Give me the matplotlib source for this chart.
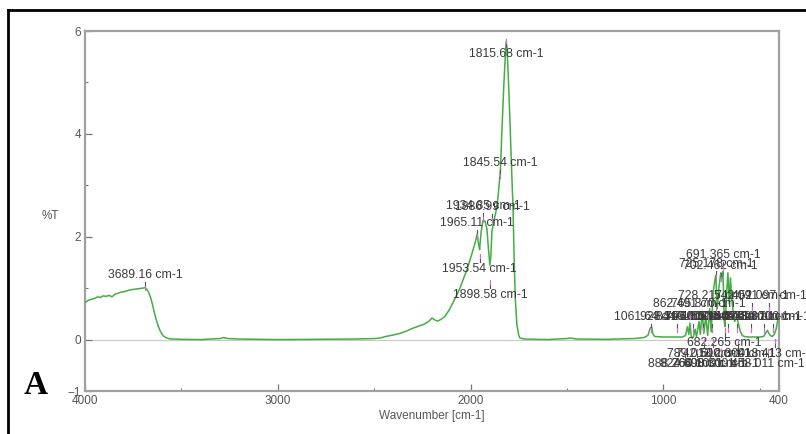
import matplotlib
matplotlib.use("Agg")
import matplotlib.pyplot as plt
from matplotlib.ticker import FixedLocator
from matplotlib.lines import Line2D
from matplotlib.transforms import offset_copy

# ---------------- data ----------------
wavenumber = [4000, 3985, 3970, 3950, 3935, 3920, 3905, 3890, 3875, 3860, 3845, 3830,
              3815, 3800, 3780, 3760, 3740, 3720, 3700, 3689, 3680, 3670, 3660, 3650,
              3640, 3630, 3620, 3610, 3600, 3590, 3575, 3560, 3540, 3500, 3400, 3300,
              3280, 3260, 3200, 3000, 2800, 2600, 2500, 2470, 2440, 2400, 2366, 2330,
              2300, 2262, 2240, 2215, 2200, 2185, 2170, 2150, 2133, 2110, 2091, 2070,
              2055, 2035, 2019, 2000, 1987, 1975, 1966, 1958, 1953, 1945, 1935, 1925,
              1915, 1908, 1900, 1895, 1889, 1880, 1870, 1858, 1850, 1845, 1838, 1828,
              1820, 1815, 1810, 1803, 1796, 1788, 1780, 1774, 1768, 1760, 1750, 1744,
              1720, 1600, 1500, 1480, 1450, 1300, 1150, 1100, 1080, 1068, 1061, 1055,
              1045, 1000, 950, 900, 885, 875, 868, 862, 855, 845, 835, 828, 815, 808,
              798, 790, 780, 770, 760, 752, 742, 735, 728, 720, 712, 702, 695, 691,
              684, 680, 672, 665, 658, 652, 645, 638, 630, 620, 610, 600, 590, 580,
              560, 530, 500, 480, 470, 460, 455, 445, 435, 425, 415, 408, 402, 400]
transmittance = [0.72, 0.76, 0.78, 0.80, 0.83, 0.82, 0.85, 0.84, 0.86, 0.83, 0.88, 0.90,
                 0.92, 0.93, 0.95, 0.97, 0.98, 0.99, 1.00, 1.01, 0.98, 0.92, 0.82, 0.68,
                 0.52, 0.38, 0.26, 0.17, 0.10, 0.06, 0.03, 0.015, 0.01, 0.005, 0.0, 0.02,
                 0.04, 0.02, 0.01, 0.0, 0.005, 0.01, 0.02, 0.03, 0.06, 0.09, 0.12, 0.17,
                 0.22, 0.27, 0.30, 0.36, 0.42, 0.38, 0.36, 0.40, 0.45, 0.58, 0.72, 0.88,
                 1.00, 1.20, 1.36, 1.58, 1.75, 1.90, 2.05, 1.85, 1.75, 2.10, 2.32, 2.30,
                 2.15, 1.80, 1.45, 1.60, 2.10, 2.30, 2.45, 2.75, 3.10, 3.30, 4.00, 4.90,
                 5.50, 5.80, 5.60, 5.00, 4.30, 3.40, 2.60, 1.60, 0.80, 0.30, 0.08, 0.03,
                 0.01, 0.0, 0.02, 0.03, 0.01, 0.005, 0.02, 0.04, 0.08, 0.22, 0.25, 0.12,
                 0.06, 0.05, 0.05, 0.05, 0.08, 0.25, 0.10, 0.32, 0.05, 0.04, 0.20, 0.05,
                 0.35, 0.10, 0.55, 0.12, 0.45, 0.08, 0.60, 0.15, 0.90, 1.10, 1.25, 0.60,
                 1.00, 1.30, 1.20, 1.32, 0.35, 0.25, 0.90, 1.30, 0.70, 1.20, 0.80, 0.55,
                 0.35, 0.45, 0.30, 0.15, 0.08, 0.06, 0.05, 0.05, 0.05, 0.06, 0.12, 0.18,
                 0.14, 0.08, 0.06, 0.10, 0.20, 0.35, 0.42, 0.45]

label_wn = [3689.16, 1815.68, 1845.54, 1934.85, 1886.99, 1965.11, 1953.54, 1898.58,
            691.365, 725.178, 702.462,
            728.217, 542.091, 452.097,
            862.491, 765.870,
            1061.64, 928.310, 844.600, 795.200, 748.500, 663.400, 618.270, 545.600, 478.300, 432.700,
            682.265,
            789.013, 742.500, 612.300, 418.413,
            888.264, 824.600, 760.100, 698.300, 458.011]
label_text = ["3689.16 cm-1", "1815.68 cm-1", "1845.54 cm-1", "1934.85 cm-1", "1886.99 cm-1",
              "1965.11 cm-1", "1953.54 cm-1", "1898.58 cm-1",
              "691.365 cm-1", "725.178 cm-1", "702.462 cm-1",
              "728.217 cm-1", "542.091 cm-1", "452.097 cm-1",
              "862.491 cm-1", "765.870 cm-1",
              "1061.64 cm-1", "928.310 cm-1", "844.600 cm-1", "795.200 cm-1", "748.500 cm-1",
              "663.400 cm-1", "618.270 cm-1", "545.600 cm-1", "478.300 cm-1", "432.700 cm-1",
              "682.265 cm-1",
              "789.013 cm-1", "742.500 cm-1", "612.300 cm-1", "418.413 cm-1",
              "888.264 cm-1", "824.600 cm-1", "760.100 cm-1", "698.300 cm-1", "458.011 cm-1"]
label_level = [1.26, 5.56, 3.44, 2.59, 2.57, 2.26, 1.38, 0.86,
               1.65, 1.46, 1.44,
               0.84, 0.84, 0.84,
               0.70, 0.70,
               0.43, 0.43, 0.43, 0.43, 0.43, 0.43, 0.43, 0.43, 0.43, 0.43,
               -0.06,
               -0.29, -0.29, -0.29, -0.29,
               -0.47, -0.47, -0.47, -0.47, -0.47]
label_side = [1, -1, 1, 1, 1, 1, -1, -1,
              1, 1, 1,
              1, 1, 1,
              1, 1,
              1, 1, 1, 1, 1, 1, 1, 1, 1, 1,
              -1,
              -1, -1, -1, -1,
              -1, -1, -1, -1, -1]

x_major = [4000, 3000, 2000, 1000, 400]
x_minor = [3500, 2500, 1500, 500]
y_major = [6, 4, 2, 0, -1]
y_minor = [5, 3, 1]

# ---------------- figure ----------------
plt.rcParams['font.family'] = ['Liberation Sans', 'DejaVu Sans']
fig = plt.figure(figsize=(8.06, 4.34), dpi=100)
ax = fig.add_axes([85 / 806, 43 / 434, 694 / 806, 360 / 434])

ax.axhline(0, color='#c8c8c8', lw=0.8, zorder=1)
ax.plot(wavenumber, transmittance, color='#44ad44', lw=1.1, zorder=3)

ax.set_xlim(4000, 400)
ax.set_ylim(-1, 6)

ax.xaxis.set_major_locator(FixedLocator(x_major))
ax.xaxis.set_minor_locator(FixedLocator(x_minor))
ax.yaxis.set_major_locator(FixedLocator(y_major))
ax.yaxis.set_minor_locator(FixedLocator(y_minor))
ax.tick_params(which='major', direction='in', length=5, width=0.9, color='#777777',
               labelsize=8.5, labelcolor='#555555', pad=3)
ax.tick_params(which='minor', direction='in', length=2.5, width=0.8, color='#777777')
for s in ax.spines.values():
    s.set_color('#a0a0a0')
    s.set_linewidth(1.6)

ax.set_xlabel('Wavenumber [cm-1]', fontsize=8.5, color='#555555', labelpad=2)
ax.set_ylabel('%T', fontsize=8.5, color='#555555', rotation=0, labelpad=16)
ax.yaxis.set_label_coords(-0.05, 0.47)

# peak labels with marker ticks
inv = fig.transFigure.inverted()
for wn, txt, lv, sd in zip(label_wn, label_text, label_level, label_side):
    ax.text(wn, lv, txt, fontsize=8.8, color='#3a3a3a', ha='center', va='center',
            zorder=5, clip_on=False)
    d0, d1 = (-7, -15) if sd > 0 else (7, 15)
    p0 = offset_copy(ax.transData, fig=fig, x=0, y=d0, units='dots').transform((wn, lv))
    p1 = offset_copy(ax.transData, fig=fig, x=0, y=d1, units='dots').transform((wn, lv))
    f0 = inv.transform(p0)
    f1 = inv.transform(p1)
    fig.add_artist(Line2D([f0[0], f1[0]], [f0[1], f1[1]], color='#555555', lw=0.8, zorder=6))
    fig.add_artist(Line2D([f0[0], f0[0]], [(f0[1] + f1[1]) / 2, f1[1]], color='#d070d0',
                          lw=0.8, zorder=7))

# panel letter
fig.text(36 / 806, 1 - 385 / 434, 'A', fontsize=24, fontweight='bold',
         family=['Liberation Serif', 'DejaVu Serif'], ha='center', va='center', color='black')

# outer black frame (top and left visible)
fig.add_artist(Line2D([8 / 806, 1.0], [1 - 10 / 434, 1 - 10 / 434], color='black', lw=2))
fig.add_artist(Line2D([8 / 806, 8 / 806], [0.0, 1 - 10 / 434], color='black', lw=2))

fig.savefig('out.png', dpi=100)
